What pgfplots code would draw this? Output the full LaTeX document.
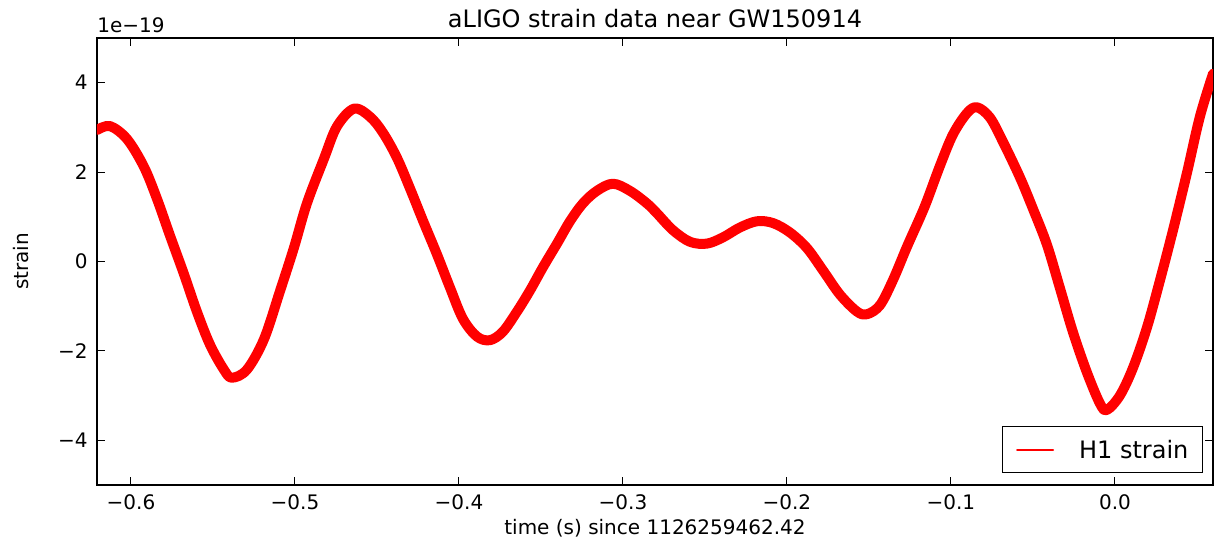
\documentclass[border=0pt]{standalone}
\usepackage{fontspec}
\setmainfont{DejaVu Sans}
\usepackage{pgfplots}
\pgfplotsset{compat=1.18}
\pgfplotstableread{
x y
-0.6207 2.94
-0.6128 3.03
-0.6024 2.74
-0.5921 2.12
-0.5841 1.40
-0.5762 0.58
-0.5677 -0.28
-0.5598 -1.12
-0.5518 -1.86
-0.5433 -2.42
-0.5384 -2.60
-0.5293 -2.42
-0.5189 -1.74
-0.5091 -0.66
-0.5006 0.31
-0.4927 1.30
-0.4823 2.30
-0.4744 3.02
-0.4640 3.42
-0.4543 3.24
-0.4463 2.88
-0.4378 2.32
-0.4299 1.64
-0.4220 0.92
-0.4134 0.16
-0.4055 -0.58
-0.3976 -1.28
-0.3890 -1.68
-0.3811 -1.76
-0.3732 -1.57
-0.3646 -1.12
-0.3567 -0.65
-0.3488 -0.13
-0.3402 0.40
-0.3323 0.90
-0.3244 1.30
-0.3159 1.58
-0.3061 1.74
-0.2957 1.58
-0.2854 1.30
-0.2793 1.08
-0.2695 0.70
-0.2591 0.44
-0.2488 0.40
-0.2390 0.54
-0.2287 0.76
-0.2183 0.90
-0.2085 0.86
-0.1982 0.65
-0.1878 0.30
-0.1780 -0.20
-0.1677 -0.74
-0.1573 -1.12
-0.1512 -1.18
-0.1433 -0.98
-0.1354 -0.42
-0.1268 0.33
-0.1189 0.98
-0.1146 1.36
-0.1067 2.14
-0.0988 2.84
-0.0902 3.32
-0.0841 3.45
-0.0762 3.22
-0.0683 2.68
-0.0579 1.88
-0.0500 1.18
-0.0415 0.38
-0.0335 -0.60
-0.0256 -1.58
-0.0171 -2.48
-0.0091 -3.18
-0.0049 -3.32
0.0030 -3.00
0.0110 -2.38
0.0195 -1.48
0.0274 -0.43
0.0354 0.70
0.0439 1.98
0.0518 3.24
0.0598 4.20
}\strain
\begin{document}
\fontsize{10bp}{12bp}\selectfont
\begin{tikzpicture}
\begin{axis}[name=ax, scale only axis, width=558bp, height=223.5bp,
  xmin=-0.6207, xmax=0.0598, ymin=-5, ymax=5,
  xtick={-0.6,-0.5,-0.4,-0.3,-0.2,-0.1,0},
  xticklabels={−0.6,−0.5,−0.4,−0.3,−0.2,−0.1,0.0},
  ytick={-4,-2,0,2,4}, yticklabels={−4,−2,0,2,4},
  tick align=inside, major tick length=4bp,
  tick style={black, line width=0.5bp},
  axis line style={black, line width=0.6bp},
  tick label style={font=\fontsize{10bp}{12bp}\selectfont},
  xticklabel style={anchor=base, yshift=-12.5bp},
  yticklabel style={anchor=east, inner sep=0pt, xshift=-4.5bp},
  legend style={at={(axis description cs:0.991,0.0268)}, anchor=south east,
    draw=black, line width=0.5bp, fill=white, inner xsep=7bp, inner ysep=6.9bp,
    font=\fontsize{12bp}{14bp}\selectfont,
    nodes={inner sep=0pt, text depth=0pt},
    /tikz/every odd column/.append style={column sep=12.5bp}},
  legend image code/.code={\draw[draw=red, color=red, line width=1bp] (0bp,0bp) -- (18bp,0bp);},
]
\addplot[red, line width=5bp, smooth, tension=0.55, line join=round, line cap=round] table[x=x,y=y] {\strain};
\addlegendentry{H1 strain}
\end{axis}
\node[anchor=base, font=\fontsize{12bp}{14bp}\selectfont] at ([yshift=5bp]ax.north) {aLIGO strain data near GW150914};
\node[anchor=base west, inner sep=0pt] at ([yshift=2.5bp]ax.north west) {1e−19};
\node[anchor=base] at ([yshift=-25bp]ax.south) {time (s) since 1126259462.42};
\node[anchor=base, rotate=90] at ([xshift=-34.5bp]ax.west) {strain};
\path ([xshift=-48.5bp, yshift=-29.5bp]ax.south west) rectangle ([xshift=1bp, yshift=19bp]ax.north east);
\end{tikzpicture}
\end{document}
